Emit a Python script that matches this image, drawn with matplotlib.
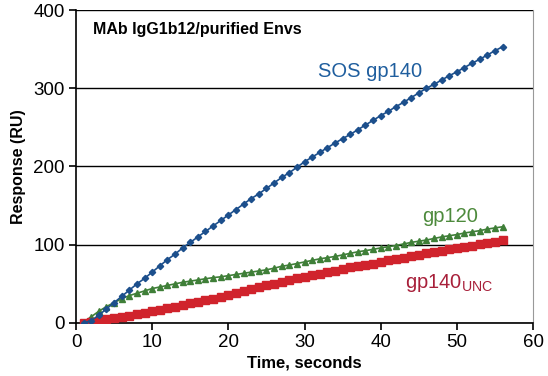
# SPR binding curves, MAb IgG1b12 on purified Envs
import matplotlib
matplotlib.use('Agg')
import matplotlib.pyplot as plt

plt.rcParams['font.family'] = ['Liberation Sans', 'DejaVu Sans']

# time points (s)
t = list(range(1, 57))

# SOS gp140 response (RU)
sos = [0, 3, 10, 18, 26, 34, 42, 50, 57, 65,
       73, 81, 88, 96, 103, 110, 117, 124, 131, 138,
       145, 152, 159, 165, 172, 179, 186, 192, 199, 206,
       212, 218, 224, 230, 235.5, 241, 247, 253, 259, 265,
       270.5, 276.5, 282, 288, 294, 300, 305, 310.5, 316, 321,
       326.5, 332, 337, 342.5, 348, 353]

# gp120 response (RU)
gp120 = [1, 8, 15, 21, 26, 31, 35, 38, 41, 44,
         46, 48, 50, 52, 53.5, 55, 56.5, 58, 59, 60.5,
         62, 63.5, 65, 66.5, 68, 70, 72.5, 74, 76, 78,
         80, 82, 83.5, 85, 87, 89, 91, 92.5, 94, 96,
         97.5, 99, 101, 103, 104.5, 106, 108, 110, 111.5, 113,
         115, 116.5, 118, 120, 121.5, 123]

# gp140 UNC response (RU)
unc = [0, 1.5, 3, 4.5, 6.5, 8, 9.5, 11, 13, 15,
       17, 19, 21, 23, 25, 27, 29, 31, 33.5, 36,
       38.5, 41, 43, 45.5, 48, 50, 52.5, 54.5, 57, 59,
       61, 63, 65, 67, 69, 71, 72.5, 74.5, 76, 78,
       80, 82, 83.5, 85, 87, 89, 90.5, 92, 94, 95.5,
       97, 99, 100.5, 102, 104, 105.5]

fig = plt.figure(figsize=(5.48, 3.76), dpi=100)
ax = fig.add_axes([0.1387, 0.141, 0.834, 0.8324])

ax.plot(t, sos, color='#1c4f8c', marker='D', markersize=3.2, linewidth=1.2, zorder=4)
ax.plot(t, gp120, color='#3f7f38', marker='^', markersize=5, linewidth=1.2, zorder=3)
ax.plot(t, unc, color='#d0232c', marker='s', markersize=5.5, linewidth=1.5, zorder=3)

ax.set_xlim(0, 60)
ax.set_ylim(0, 400)
ax.set_xticks([0, 10, 20, 30, 40, 50, 60])
ax.set_yticks([0, 100, 200, 300, 400])
ax.yaxis.grid(True, color='black', linewidth=1)
ax.set_axisbelow(True)

ax.spines['top'].set_visible(False)
ax.spines['right'].set_color('#999999')
ax.spines['left'].set_linewidth(1.2)
ax.spines['bottom'].set_linewidth(1.2)
ax.tick_params(direction='out', length=5, width=1.2, labelsize=13.5, pad=3)

ax.set_xlabel('Time, seconds', fontsize=12, fontweight='bold', labelpad=3)
ax.set_ylabel('Response (RU)', fontsize=11.5, fontweight='bold', labelpad=5)

ax.text(2.2, 375, 'MAb IgG1b12/purified Envs', fontsize=11.5, fontweight='bold', va='center')
ax.text(31.8, 322, 'SOS gp140', fontsize=14.5, color='#1f5e9e', va='center')
ax.text(45.5, 136, 'gp120', fontsize=14.5, color='#4d8a3c', va='center')
ax.text(43.2, 51, r'gp140$_{\mathregular{UNC}}$', fontsize=14.5, color='#a8203a', va='center')

plt.savefig('out.png', dpi=100)
